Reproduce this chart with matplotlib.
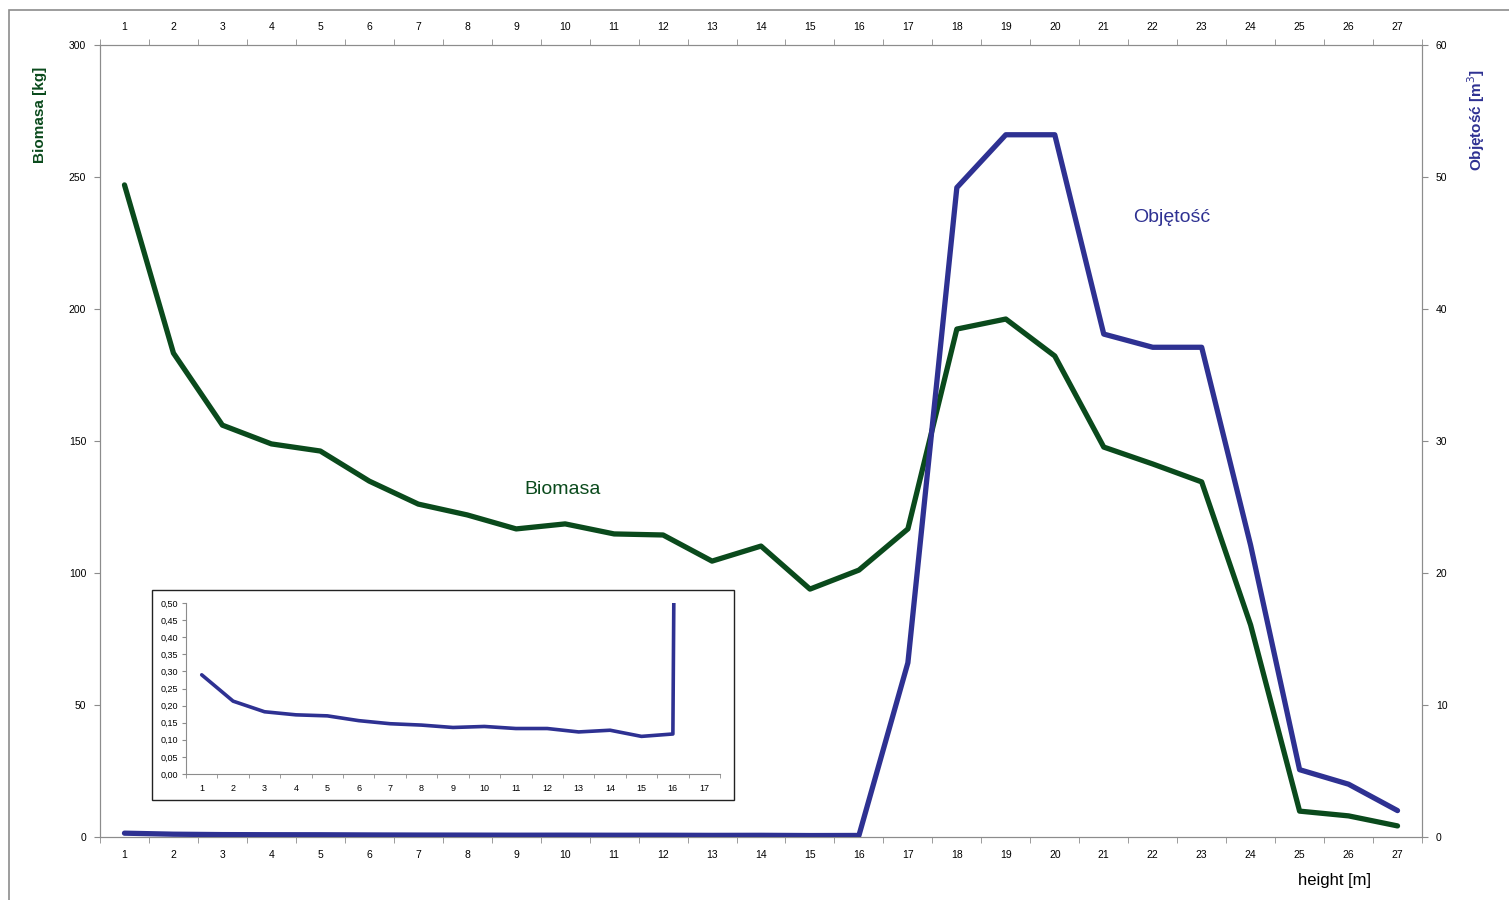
import matplotlib.pyplot as plt
from matplotlib.patches import Rectangle

W, H = 1509, 900

heights = list(range(1, 28))
biomasa = [247, 183.3, 156, 148.9, 146.2, 134.8, 126.1, 122, 116.7, 118.6, 114.8, 114.4,
           104.5, 110.2, 93.9, 101.1, 116.7, 192.4, 196.2, 182.2, 147.7, 141.3, 134.5,
           80.3, 9.8, 8.0, 4.2]
objetosc = [0.29, 0.213, 0.182, 0.173, 0.17, 0.156, 0.147, 0.143, 0.136, 0.139, 0.133,
            0.133, 0.123, 0.128, 0.11, 0.117, 13.2, 49.2, 53.2, 53.2, 38.1, 37.1, 37.1,
            22.1, 5.1, 4.0, 2.0]

green = '#0a4a1c'
navy = '#2e3192'
grey = '#8c8c8c'
plt.rcParams['font.family'] = ['Liberation Sans', 'DejaVu Sans']

fig = plt.figure(figsize=(W / 100, H / 100), dpi=100)

# outer chart frame (only top/left visible in the picture)
fig.patches.append(Rectangle((9 / W, -0.1), 1.2, (H - 10) / H + 0.1, transform=fig.transFigure,
                             fill=False, ec=grey, lw=1.2))

def box(x0, y0, x1, y1):
    return [x0 / W, 1 - y1 / H, (x1 - x0) / W, (y1 - y0) / H]

ax = fig.add_axes(box(100, 45, 1422, 837))
ax.plot(heights, biomasa, color=green, lw=3.8, solid_capstyle='round', zorder=3)
ax.set_xlim(0.5, 27.5)
ax.set_ylim(0, 300)
ax.set_yticks(range(0, 301, 50))
ax.set_xticks(heights)
ax.set_xticks([h + 0.5 for h in range(0, 28)], minor=True)
ax.tick_params(axis='x', which='major', length=0, pad=9, labelsize=7.5, top=True, labeltop=True)
ax.tick_params(axis='x', which='minor', length=4, color=grey, top=True, direction='out')
ax.tick_params(axis='y', length=4, color=grey, labelsize=7.5, pad=6)
for s in ax.spines.values():
    s.set_color(grey)

ax2 = ax.twinx()
ax2.plot(heights, objetosc, color=navy, lw=3.8, solid_capstyle='round', zorder=3)
ax2.set_ylim(0, 60)
ax2.set_yticks(range(0, 61, 10))
ax2.tick_params(axis='y', length=4, color=grey, labelsize=7.5, pad=6)
for s in ax2.spines.values():
    s.set_color(grey)

fig.text(40 / W, 1 - 115 / H, 'Biomasa [kg]', rotation=90, color=green, fontsize=11,
         fontweight='bold', ha='center', va='center')
fig.text(1476 / W, 1 - 120 / H, 'Objętość [m$^3$]', rotation=90, color=navy, fontsize=11,
         fontweight='bold', ha='center', va='center')
fig.text(1335 / W, 1 - 881 / H, 'height [m]', fontsize=12, ha='center', va='center')
fig.text(563 / W, 1 - 490 / H, 'Biomasa', color=green, fontsize=14, ha='center', va='center')
fig.text(1172 / W, 1 - 218 / H, 'Objętość', color=navy, fontsize=14, ha='center', va='center')

# inset: zoom on the small volume values
fig.patches.append(Rectangle((152 / W, 1 - 800 / H), (734 - 152) / W, (800 - 590) / H,
                             transform=fig.transFigure, fill=False, ec='#222222', lw=1,
                             zorder=5))
axi = fig.add_axes(box(186, 603, 720, 774))
axi.plot(heights, objetosc, color=navy, lw=2.6, solid_capstyle='round')
axi.set_xlim(0.5, 17.5)
axi.set_ylim(0, 0.5)
axi.set_yticks([i * 0.05 for i in range(11)])
axi.set_yticklabels([f'{i * 0.05:.2f}'.replace('.', ',') for i in range(11)])
axi.set_xticks(range(1, 18))
axi.set_xticks([h + 0.5 for h in range(0, 18)], minor=True)
axi.tick_params(axis='x', which='major', length=0, pad=7, labelsize=6.5)
axi.tick_params(axis='x', which='minor', length=3, color=grey)
axi.tick_params(axis='y', length=3, color=grey, labelsize=6.5, pad=3)
axi.spines['top'].set_visible(False)
axi.spines['right'].set_visible(False)
axi.spines['left'].set_color(grey)
axi.spines['bottom'].set_color(grey)
axi.patch.set_alpha(0)

fig.savefig('out.png', dpi=100)
